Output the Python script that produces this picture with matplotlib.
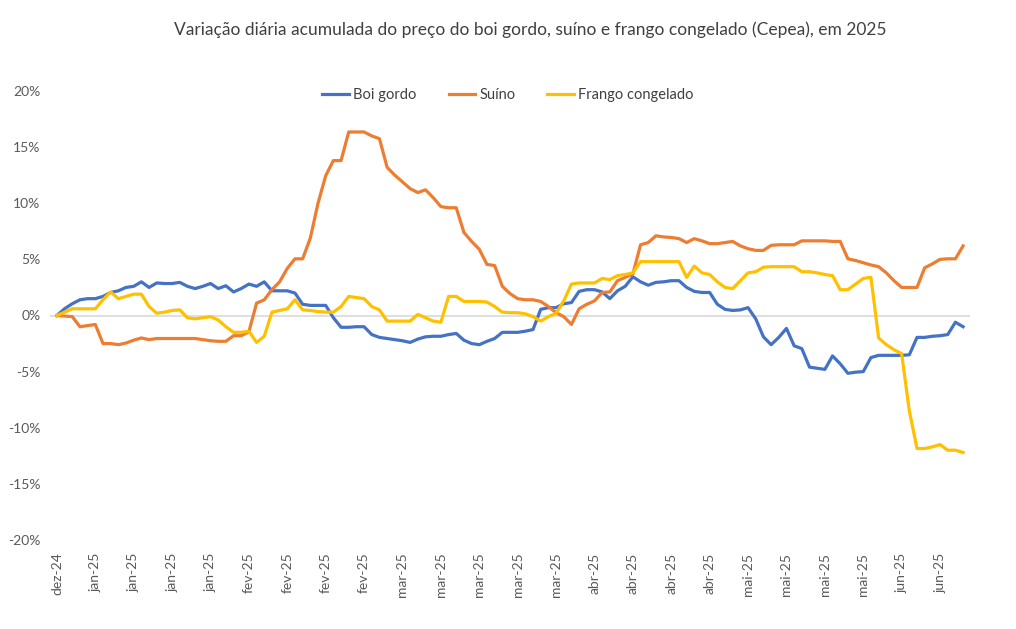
import numpy as np
import matplotlib
matplotlib.use('Agg')
import matplotlib.pyplot as plt
from matplotlib.ticker import FuncFormatter

# category labels shown every 5th trading day
tick_labels = ['dez-24', 'jan-25', 'jan-25', 'jan-25', 'jan-25',
               'fev-25', 'fev-25', 'fev-25', 'fev-25',
               'mar-25', 'mar-25', 'mar-25', 'mar-25', 'mar-25',
               'abr-25', 'abr-25', 'abr-25', 'abr-25',
               'mai-25', 'mai-25', 'mai-25', 'mai-25',
               'jun-25', 'jun-25']

# accumulated daily variation (%)
boi_gordo = [
    0, 0.6, 1.05, 1.4, 1.5, 1.5, 1.7, 2.05, 2.2, 2.5,
    2.6, 3.0, 2.5, 2.9, 2.85, 2.85, 2.95, 2.6, 2.4, 2.6,
    2.85, 2.4, 2.65, 2.1, 2.4, 2.8, 2.6, 3.0, 2.2, 2.2,
    2.2, 2.0, 1.0, 0.9, 0.9, 0.9, -0.2, -1.05, -1.05, -1.0,
    -1.0, -1.7, -1.95, -2.05, -2.15, -2.25, -2.4, -2.1, -1.9, -1.85,
    -1.85, -1.7, -1.6, -2.2, -2.5, -2.6, -2.3, -2.05, -1.5, -1.5,
    -1.5, -1.4, -1.25, 0.55, 0.7, 0.7, 1.05, 1.15, 2.15, 2.3,
    2.3, 2.1, 1.5, 2.2, 2.6, 3.45, 3.0, 2.7, 2.95, 3.0,
    3.1, 3.1, 2.5, 2.15, 2.05, 2.05, 1.0, 0.55, 0.45, 0.5,
    0.7, -0.3, -1.9, -2.6, -1.95, -1.15, -2.7, -2.95, -4.6, -4.7,
    -4.8, -3.6, -4.3, -5.15, -5.05, -5.0, -3.75, -3.55, -3.55, -3.55,
    -3.55, -3.5, -1.95, -1.95, -1.85, -1.8, -1.7, -0.6, -1.0]

suino = [
    0, -0.05, -0.1, -1.0, -0.9, -0.8, -2.5, -2.5, -2.6, -2.45,
    -2.2, -2.0, -2.15, -2.05, -2.05, -2.05, -2.05, -2.05, -2.05, -2.15,
    -2.25, -2.3, -2.3, -1.8, -1.8, -1.45, 1.1, 1.4, 2.3, 3.0,
    4.2, 5.05, 5.05, 6.9, 10.0, 12.45, 13.8, 13.8, 16.35, 16.35,
    16.35, 16.0, 15.75, 13.2, 12.5, 11.9, 11.3, 10.95, 11.2, 10.5,
    9.7, 9.6, 9.6, 7.4, 6.6, 5.9, 4.55, 4.45, 2.6, 1.95,
    1.5, 1.4, 1.4, 1.25, 0.8, 0.25, -0.1, -0.8, 0.6, 1.0,
    1.3, 2.05, 2.1, 3.1, 3.4, 3.7, 6.3, 6.5, 7.1, 7.0,
    6.95, 6.85, 6.5, 6.85, 6.65, 6.4, 6.4, 6.5, 6.6, 6.2,
    5.95, 5.8, 5.8, 6.25, 6.3, 6.3, 6.3, 6.65, 6.65, 6.65,
    6.65, 6.6, 6.6, 5.05, 4.9, 4.7, 4.5, 4.35, 3.8, 3.1,
    2.5, 2.5, 2.5, 4.25, 4.6, 5.0, 5.05, 5.05, 6.2]

frango = [
    0, 0.3, 0.6, 0.6, 0.6, 0.6, 1.4, 2.1, 1.5, 1.7,
    1.9, 1.9, 0.8, 0.2, 0.3, 0.45, 0.5, -0.2, -0.3, -0.2,
    -0.1, -0.4, -1.0, -1.5, -1.5, -1.4, -2.4, -1.85, 0.3, 0.45,
    0.6, 1.4, 0.5, 0.45, 0.35, 0.3, 0.3, 0.8, 1.7, 1.6,
    1.5, 0.8, 0.5, -0.5, -0.5, -0.5, -0.5, 0.1, -0.2, -0.5,
    -0.6, 1.7, 1.7, 1.25, 1.25, 1.25, 1.2, 0.8, 0.3, 0.25,
    0.25, 0.15, -0.1, -0.5, -0.1, 0.2, 1.3, 2.8, 2.9, 2.9,
    2.9, 3.3, 3.2, 3.55, 3.65, 3.8, 4.8, 4.8, 4.8, 4.8,
    4.8, 4.8, 3.4, 4.4, 3.8, 3.65, 3.0, 2.5, 2.4, 3.1,
    3.8, 3.9, 4.3, 4.35, 4.35, 4.35, 4.35, 3.9, 3.9, 3.8,
    3.65, 3.55, 2.3, 2.3, 2.8, 3.3, 3.4, -2.0, -2.6, -3.05,
    -3.4, -8.5, -11.85, -11.85, -11.7, -11.5, -12.0, -12.0, -12.2]

x = np.arange(len(boi_gordo))
tick_pos = np.arange(0, 5 * len(tick_labels), 5)

plt.rcParams['font.family'] = ['Lato', 'DejaVu Sans']

fig = plt.figure(figsize=(10.16, 6.29), dpi=100)
ax = fig.add_axes([50 / 1016, 89 / 629, 920 / 1016, 449 / 629])

ax.axhline(0, color='#d9d9d9', lw=1.2, zorder=1)
ax.plot(x, boi_gordo, color='#4472C4', lw=2.3, label='Boi gordo', zorder=3)
ax.plot(x, suino, color='#ED7D31', lw=2.3, label='Suíno', zorder=3)
ax.plot(x, frango, color='#FFC000', lw=2.3, label='Frango congelado', zorder=3)

ax.set_xlim(-0.9, 118.9)
ax.set_ylim(-20, 20)
ax.set_yticks(np.arange(-20, 21, 5))
ax.yaxis.set_major_formatter(FuncFormatter(lambda v, p: f'{v:.0f}%'))
ax.set_xticks(tick_pos)
ax.set_xticklabels(tick_labels, rotation=90)

for s in ax.spines.values():
    s.set_visible(False)
ax.tick_params(axis='both', length=0, colors='#595959', labelsize=10)
ax.tick_params(axis='x', pad=9)
ax.tick_params(axis='y', pad=7)

fig.text(530 / 1016, 1 - 30 / 629,
         'Variação diária acumulada do preço do boi gordo, suíno e frango congelado (Cepea), em 2025',
         ha='center', va='center', fontsize=12.5, color='#404040')

fig.legend(loc='center', bbox_to_anchor=(508 / 1016, 1 - 95 / 629), ncol=3,
           frameon=False, fontsize=10.5, handlelength=1.8, handletextpad=0.3,
           columnspacing=2.2, labelcolor='#404040')

fig.savefig('out.png', dpi=100)
